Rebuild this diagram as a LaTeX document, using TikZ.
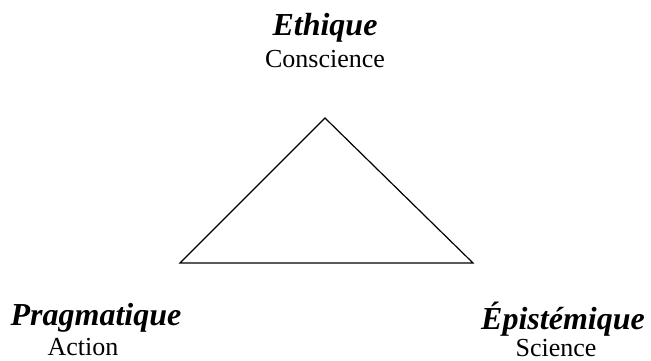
\documentclass[tikz,border=0pt]{standalone}
\usepackage{fontspec}
\setmainfont{Liberation Serif}
\usetikzlibrary{positioning}

\begin{document}
\begin{tikzpicture}[
            x=1pt, y=-1pt,
            pole/.style={
                font=\fontsize{32}{36}\selectfont\bfseries\itshape,
                anchor=base,
                inner sep=0pt
            },
            sublabel/.style={
                font=\fontsize{26}{30}\selectfont,
                anchor=base,
                inner sep=0pt
            },
            side/.style={
                draw,
                line width=1.2pt
            }
        ]
            \useasboundingbox (0,0) rectangle (651,361);

            % --- Corners of the triangle ---
            \coordinate (top) at (325,118);
            \coordinate (left) at (180,263);
            \coordinate (right) at (473,263);

            \path[side] (top) -- (right) -- (left) -- cycle;

            % --- Ethique (top) ---
            \node[pole] (eth) at (325,36) {Ethique};
            \node[sublabel] (con) at (325,68) {Conscience};

            % --- Pragmatique (left) ---
            \node[pole] (prag) at (96,325) {Pragmatique};
            \node[sublabel] (act) at (83,355) {Action};

            % --- Epistemique (right) ---
            \node[pole] (epi) at (563,329) {Épistémique};
            \node[sublabel] (sci) at (556,356) {Science};
        \end{tikzpicture}
\end{document}
